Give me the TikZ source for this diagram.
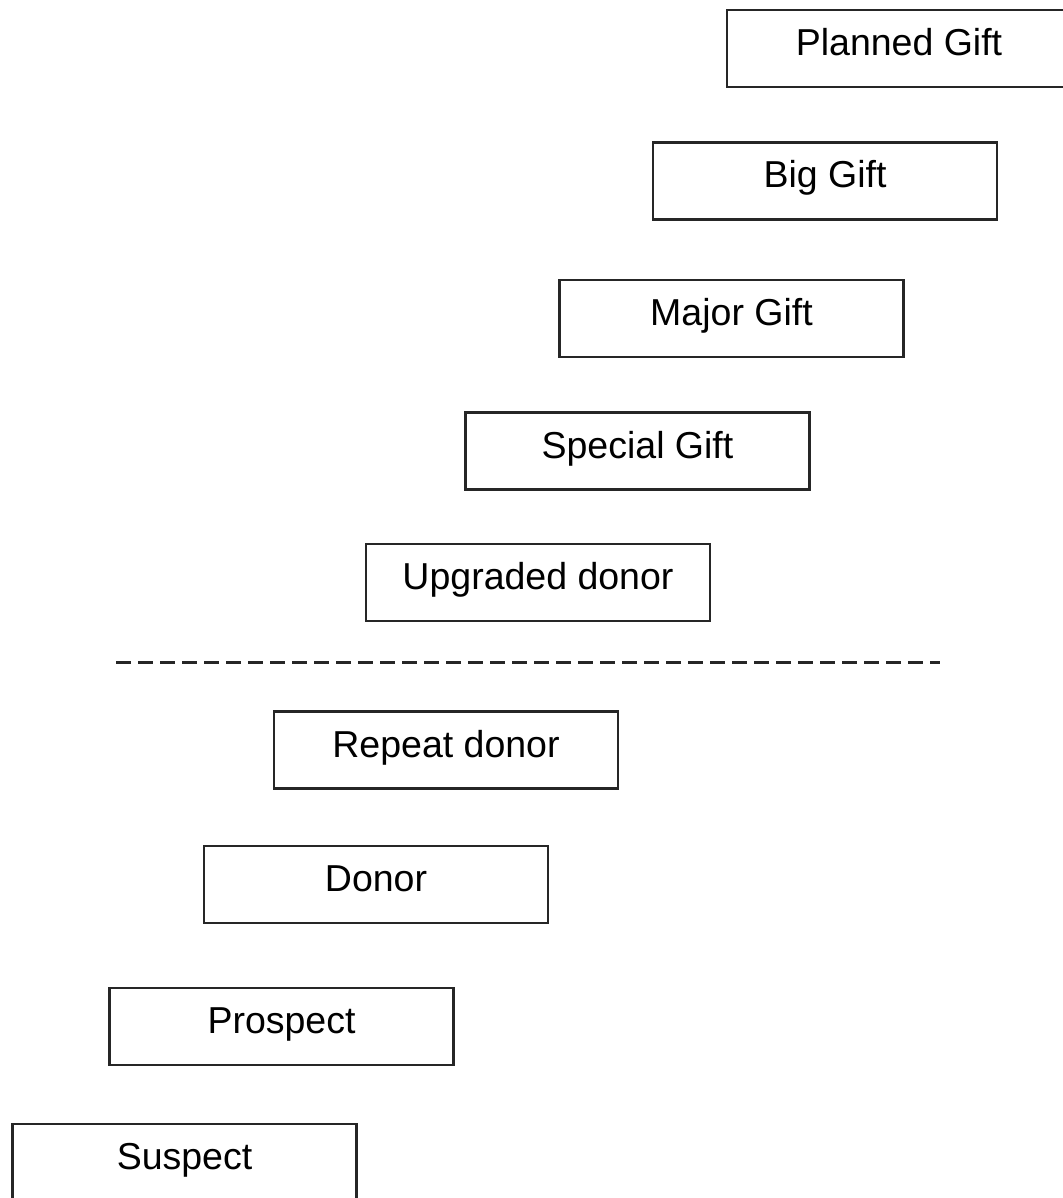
\documentclass[tikz,border=0pt]{standalone}
\usepackage{fontspec}
\setmainfont{Liberation Sans}
\begin{document}
\begin{tikzpicture}[x=1pt,y=-1pt,
  stage/.style={draw=black!85, line width=2.2pt, rectangle, inner sep=0pt,
    minimum width=344pt, minimum height=77pt,
    text height=22pt, text depth=8pt,
    font=\fontsize{37.5}{45}\selectfont},
  divider/.style={draw=black!85, line width=3pt, dash pattern=on 15pt off 7pt}]
\useasboundingbox (0,0) rectangle (1062,1198);
\node[stage] (planned)  at (899,48.5)    {Planned Gift};
\node[stage] (big)      at (825,181)     {Big Gift};
\node[stage] (major)    at (731.5,318.5) {Major Gift};
\node[stage] (special)  at (637.5,451)   {Special Gift};
\node[stage] (upgraded) at (538,582.5)   {Upgraded donor};
\node[stage] (repeat)   at (446,750)     {Repeat donor};
\node[stage] (donor)    at (376,884.5)   {Donor};
\node[stage] (prospect) at (281.5,1026.5){Prospect};
\node[stage] (suspect)  at (184.5,1162.5){Suspect};
\coordinate (dl) at (116,662);
\coordinate (dr) at (940,662);
\draw[divider] (dl) -- (dr);
\end{tikzpicture}
\end{document}
